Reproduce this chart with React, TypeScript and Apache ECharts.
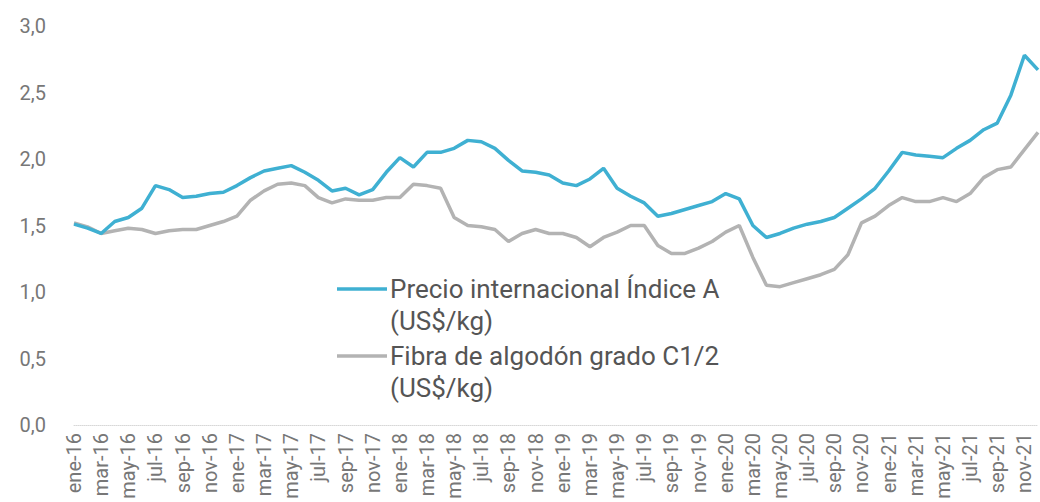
import React, { useEffect, useRef } from "react";
import * as echarts from "echarts";

const monthNames = ["ene", "feb", "mar", "abr", "may", "jun", "jul", "ago", "sep", "oct", "nov", "dic"];
const years = ["16", "17", "18", "19", "20", "21"];
const categories: string[] = [];
years.forEach((y) => monthNames.forEach((m) => categories.push(`${m}-${y}`)));

const seriesNames = ["Precio internacional Índice A\n(US$/kg)", "Fibra de algodón grado C1/2\n(US$/kg)"];

const indiceA = [
  1.51, 1.48, 1.44, 1.53, 1.56, 1.63, 1.80, 1.77, 1.71, 1.72, 1.74, 1.75,
  1.80, 1.86, 1.91, 1.93, 1.95, 1.90, 1.84, 1.76, 1.78, 1.73, 1.77, 1.90,
  2.01, 1.94, 2.05, 2.05, 2.08, 2.14, 2.13, 2.08, 1.99, 1.91, 1.90, 1.88,
  1.82, 1.80, 1.85, 1.93, 1.78, 1.72, 1.67, 1.57, 1.59, 1.62, 1.65, 1.68,
  1.74, 1.70, 1.50, 1.41, 1.44, 1.48, 1.51, 1.53, 1.56, 1.63, 1.70, 1.78,
  1.91, 2.05, 2.03, 2.02, 2.01, 2.08, 2.14, 2.22, 2.27, 2.48, 2.78, 2.67,
];

const fibraC12 = [
  1.52, 1.49, 1.44, 1.46, 1.48, 1.47, 1.44, 1.46, 1.47, 1.47, 1.50, 1.53,
  1.57, 1.69, 1.76, 1.81, 1.82, 1.80, 1.71, 1.67, 1.70, 1.69, 1.69, 1.71,
  1.71, 1.81, 1.80, 1.78, 1.56, 1.50, 1.49, 1.47, 1.38, 1.44, 1.47, 1.44,
  1.44, 1.41, 1.34, 1.41, 1.45, 1.50, 1.50, 1.35, 1.29, 1.29, 1.33, 1.38,
  1.45, 1.50, 1.26, 1.05, 1.04, 1.07, 1.10, 1.13, 1.17, 1.28, 1.52, 1.57,
  1.65, 1.71, 1.68, 1.68, 1.71, 1.68, 1.74, 1.86, 1.92, 1.94, 2.07, 2.20,
];

const colors = ["#3fb0d2", "#b3b3b3"];

export default function App() {
  const ref = useRef<HTMLDivElement>(null);
  useEffect(() => {
    if (!ref.current) return;
    const chart = echarts.init(ref.current, undefined, { renderer: "svg" });
    const font = "Roboto, 'Noto Sans', sans-serif";
    const legendText = (x: number, y: number, text: string) => ({
      type: "text",
      x,
      y,
      style: {
        text,
        fill: "#555",
        fontFamily: font,
        fontSize: 26,
        verticalAlign: "middle",
        align: "left",
      },
    });
    const legendLine = (y: number, color: string) => ({
      type: "line",
      shape: { x1: 337, y1: y, x2: 387, y2: y },
      style: { stroke: color, lineWidth: 3.5 },
    });
    const [a1, a2] = seriesNames[0].split("\n");
    const [b1, b2] = seriesNames[1].split("\n");
    chart.setOption({
      animation: false,
      textStyle: { fontFamily: font },
      grid: { left: 74, right: 2, top: 26, bottom: 77, containLabel: false },
      xAxis: {
        type: "category",
        data: categories,
        boundaryGap: false,
        axisLine: { show: true, lineStyle: { color: "#d8d8d8", type: "dotted", width: 1 } },
        axisTick: { show: false },
        axisLabel: { interval: 1, rotate: 90, color: "#777", fontSize: 20, margin: 8, fontFamily: font },
        splitLine: { show: false },
      },
      yAxis: {
        type: "value",
        min: 0,
        max: 3,
        interval: 0.5,
        axisLine: { show: false },
        axisTick: { show: false },
        splitLine: { show: false },
        axisLabel: {
          color: "#777",
          fontSize: 20,
          margin: 28,
          fontFamily: font,
          formatter: (v: number) => v.toFixed(1).replace(".", ","),
        },
      },
      series: [
        {
          name: seriesNames[0],
          type: "line",
          data: indiceA,
          symbol: "none",
          smooth: false,
          lineStyle: { color: colors[0], width: 3.5 },
          itemStyle: { color: colors[0] },
          z: 3,
        },
        {
          name: seriesNames[1],
          type: "line",
          data: fibraC12,
          symbol: "none",
          smooth: false,
          lineStyle: { color: colors[1], width: 3.5 },
          itemStyle: { color: colors[1] },
          z: 2,
        },
      ],
      graphic: [
        legendLine(289, colors[0]),
        legendText(390, 289, a1),
        legendText(390, 321, a2),
        legendLine(356, colors[1]),
        legendText(390, 356, b1),
        legendText(390, 388, b2),
      ],
    });
    return () => chart.dispose();
  }, []);
  return (
    <div
      ref={ref}
      style={{ position: "absolute", left: 0, top: 0, width: 1040, height: 502, background: "#fff" }}
    />
  );
}
